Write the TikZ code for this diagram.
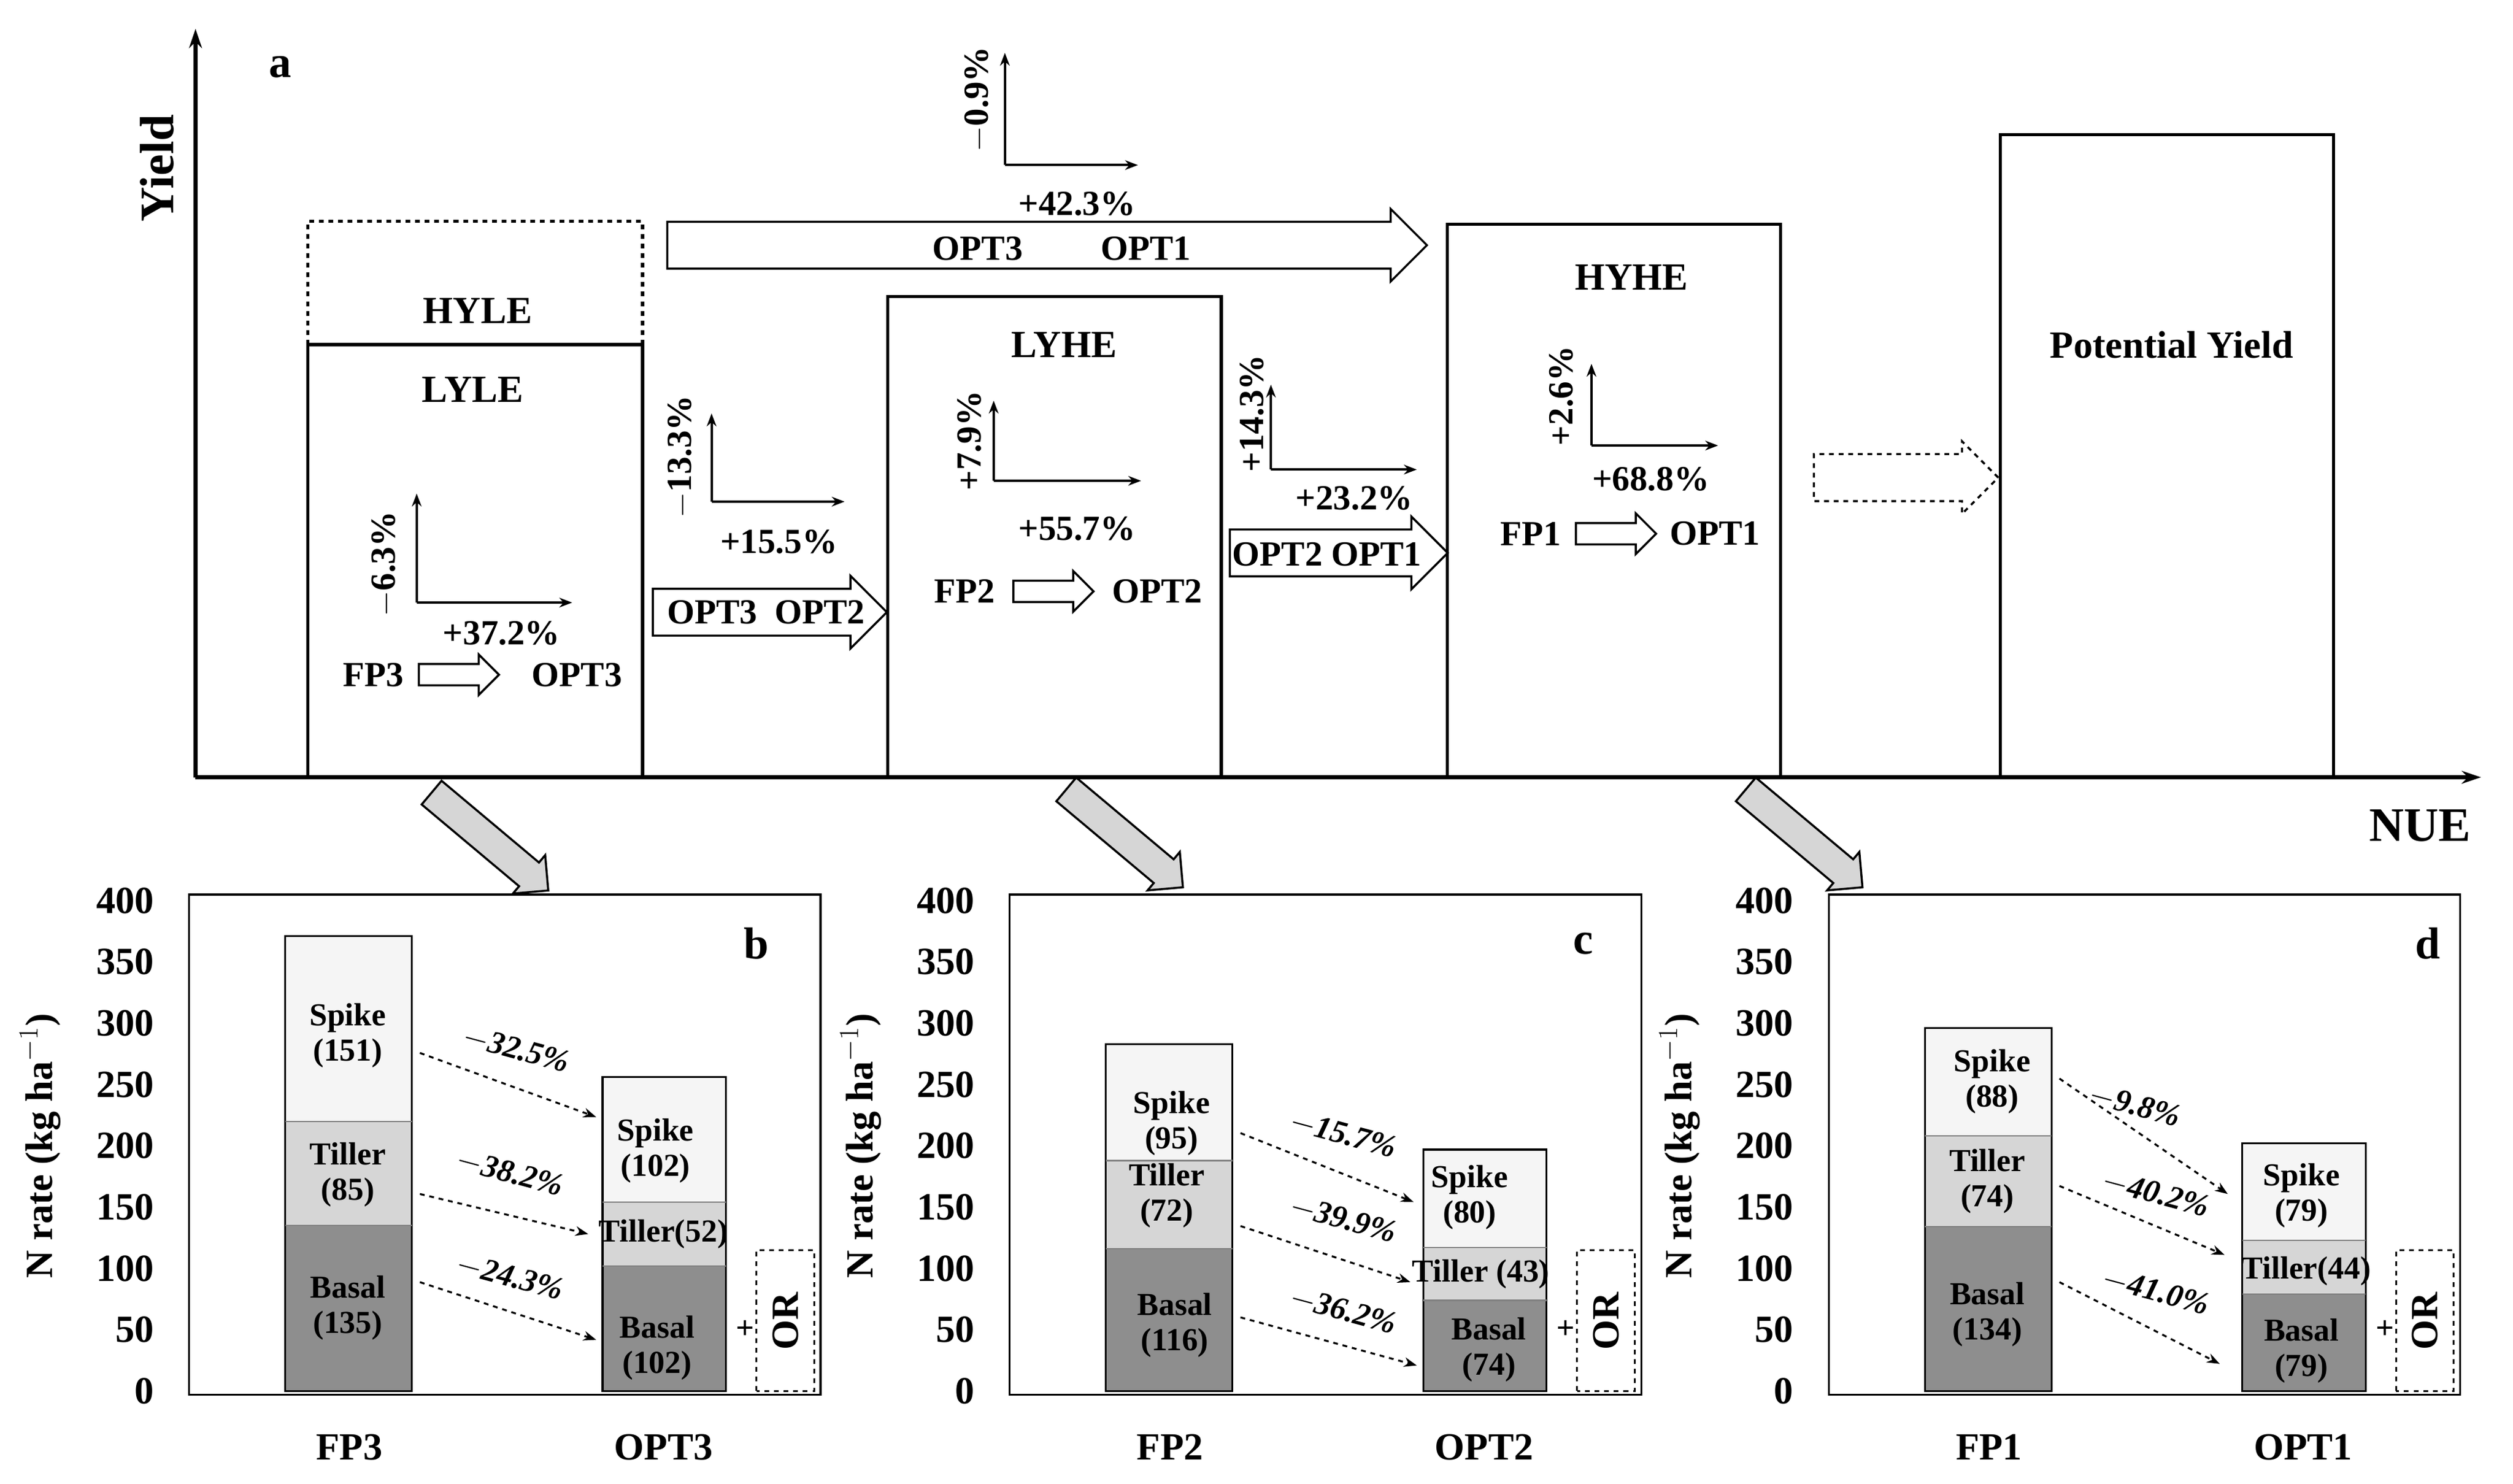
\documentclass[tikz,border=0pt]{standalone}
\usepackage{fontspec}
\setmainfont{Liberation Serif}
\usetikzlibrary{arrows.meta,shapes.arrows}
\definecolor{spk}{HTML}{F5F5F5}
\definecolor{til}{HTML}{D6D6D6}
\definecolor{bas}{HTML}{8E8E8E}
\begin{document}
\begin{tikzpicture}[x=1pt,y=-1pt,line width=2pt,
 lab/.style={font=\fontsize{24}{26}\selectfont\bfseries,inner sep=1pt},
 pl/.style={font=\fontsize{22}{24}\selectfont\bfseries,inner sep=1pt},
 bl/.style={font=\fontsize{20}{22}\selectfont\bfseries,inner sep=0pt,align=center},
 pc/.style={font=\fontsize{20}{22}\selectfont\bfseries\itshape,inner sep=1pt},
 ax/.style={line width=2.5pt,-{Stealth[length=12pt,width=8pt]}},
 arr/.style={draw,line width=1.3pt,single arrow,inner xsep=0pt,text width=0pt,anchor=center},
 hol/.style={arr,inner ysep=6pt,single arrow head extend=6pt,minimum height=#1},
 big/.style={arr,inner ysep=14pt,single arrow head extend=8pt,minimum height=#1},
 gr/.style={arr,fill=til,inner ysep=9pt,single arrow head extend=6pt,minimum height=95pt,rotate=-40},
 da/.style={line width=1.2pt,dashed,-{Stealth[length=8pt,width=6pt]}},
 sa/.style={line width=1.5pt,-{Stealth[length=8pt,width=6pt]}}]
\useasboundingbox (0,0) rectangle (1568,925.6);
% top panel axes
\coordinate (o) at (122,485);
\coordinate (ytop) at (122,18);
\coordinate (xend) at (1548,485);
\draw[ax] (o) -- (ytop);
\draw[ax] (o) -- (xend);
\node[lab,rotate=90,font=\fontsize{30}{32}\selectfont\bfseries] (yl) at (98,105) {Yield};
\node[lab,font=\fontsize{28}{30}\selectfont\bfseries] (aa) at (175,42) {a};
\node[lab,font=\fontsize{30}{32}\selectfont\bfseries] (nue) at (1510,515) {NUE};
% boxes
\draw (192,485) -- (192,215) -- (401,215) -- (401,485);
\draw[dashed] (192,215) -- (192,138) -- (401,138) -- (401,215);
\draw (554,485) rectangle (762,185);
\draw (903,485) rectangle (1111,140);
\draw (1248,485) rectangle (1456,84);
\node[lab] (hyle) at (298,194) {HYLE};
\node[lab] (lyle) at (295,243) {LYLE};
\node[lab] (lyhe) at (664,215) {LYHE};
\node[lab] (hyhe) at (1018,173) {HYHE};
\node[lab] (py) at (1355,215) {Potential Yield};
% small axes
\foreach \cx/\cy/\ux/\rx/\nm in {260/376/308/357/A,444/313/258/527/B,620/300/250/712/C,793/293/240/884/D,993/278/227/1072/E,627/103/33/710/F}{
 \coordinate (c\nm) at (\cx,\cy);
 \coordinate (u\nm) at (\cx,\ux);
 \coordinate (r\nm) at (\rx,\cy);
 \draw[sa] (c\nm) -- (u\nm);
 \draw[sa] (c\nm) -- (r\nm);
}
\node[pl,rotate=90] (pa) at (240,352) {$-$6.3\%};
\node[pl] (pa2) at (313,395) {+37.2\%};
\node[pl,rotate=90] (pb) at (425,285) {$-$13.3\%};
\node[pl] (pb2) at (486,338) {+15.5\%};
\node[pl,rotate=90] (pc1) at (605,275) {+7.9\%};
\node[pl] (pc2) at (672,330) {+55.7\%};
\node[pl,rotate=90] (pd) at (781,258) {+14.3\%};
\node[pl] (pd2) at (845,311) {+23.2\%};
\node[pl,rotate=90] (pe) at (974,247) {+2.6\%};
\node[pl] (pe2) at (1030,299) {+68.8\%};
\node[pl,rotate=90] (pf) at (610,62) {$-$0.9\%};
\node[pl] (pf2) at (672,127) {+42.3\%};
% FP->OPT
\node[pl] (fp3) at (233,421) {FP3};
\node[hol=50pt] (h1) at (283,421) {};
\node[pl] (o3) at (360,421) {OPT3};
\node[pl] (fp2) at (602,369) {FP2};
\node[hol=50pt] (h2) at (654,369) {};
\node[pl] (o2) at (722,369) {OPT2};
\node[pl] (fp1) at (955,333) {FP1};
\node[hol=50pt] (h3) at (1005,333) {};
\node[pl] (o1) at (1070,333) {OPT1};
\node[big=146pt] (ba1) at (473,382) {};
\node[pl] at (478,382) {OPT3\ \ OPT2};
\node[big=136pt] (ba2) at (828,345) {};
\node[pl] at (828,346) {OPT2 OPT1};
\node[big=474pt] (ba3) at (646,153) {};
\node[pl] (t31) at (610,155) {OPT3};
\node[pl] (t32) at (715,155) {OPT1};
\node[big=115pt,dashed] (dsh) at (1182,298) {};
% gray arrows
\node[gr] (g1) at (302,522) {};
\node[gr] (g2) at (698,520) {};
\node[gr] (g3) at (1122,520) {};
% lower panels
\newcommand\mypanel[9]{%
\begin{scope}[shift={(#1,868)},y={(0pt,0.765pt)}]
 \draw[line width=1.2pt] (0,-3) rectangle (394,405);
 \foreach \v in {0,50,...,400}{\node[lab,anchor=east] at (-20,\v) {\v};}
 \fill[bas] (60,0) rectangle (139,#2);
 \fill[til] (60,#2) rectangle (139,#3);
 \fill[spk] (60,#3) rectangle (139,#4);
 \draw[line width=1.2pt] (60,0) rectangle (139,#4);
 \draw[line width=0.8pt,gray] (60,#2) -- (139,#2) (60,#3) -- (139,#3);
 \fill[bas] (258,0) rectangle (335,#5);
 \fill[til] (258,#5) rectangle (335,#6);
 \fill[spk] (258,#6) rectangle (335,#7);
 \draw[line width=1.2pt] (258,0) rectangle (335,#7);
 \draw[line width=0.8pt,gray] (258,#5) -- (335,#5) (258,#6) -- (335,#6);
 \draw[line width=1.2pt,dashed] (354,0) rectangle (390,115);
 \node[lab,rotate=90] at (372,57) {OR};
 \node[font=\fontsize{20}{22}\selectfont\bfseries] at (347,50) {+};
 \node[lab,font=\fontsize{28}{30}\selectfont\bfseries] at (#8,365) {#9};
\end{scope}}
\mypanel{118}{135}{220}{371}{102}{154}{256}{354}{b}
\mypanel{630}{116}{188}{283}{74}{117}{197}{358}{c}
\mypanel{1141}{134}{208}{296}{79}{123}{202}{374}{d}
\node[lab,rotate=90] (ny1) at (25,715) {N rate (kg ha$^{-1}$)};
\node[lab,rotate=90] (ny2) at (537,715) {N rate (kg ha$^{-1}$)};
\node[lab,rotate=90] (ny3) at (1048,715) {N rate (kg ha$^{-1}$)};
% bottom x labels
\node[lab] at (218,903) {FP3}; \node[lab] at (414,903) {OPT3};
\node[lab] at (730,903) {FP2}; \node[lab] at (926,903) {OPT2};
\node[lab] at (1241,903) {FP1}; \node[lab] at (1437,903) {OPT1};
% bar labels b
\node[bl] at (217,646) {Spike\\(151)};
\node[bl] at (217,733) {Tiller\\(85)};
\node[bl] at (217,816) {Basal\\(135)};
\node[bl] at (409,718) {Spike\\(102)};
\node[bl] at (414,770) {Tiller(52)};
\node[bl] at (410,841) {Basal\\(102)};
% c
\node[bl] at (731,701) {Spike\\(95)};
\node[bl] at (728,746) {Tiller\\(72)};
\node[bl] at (733,827) {Basal\\(116)};
\node[bl] at (917,747) {Spike\\(80)};
\node[bl] at (924,795) {Tiller (43)};
\node[bl] at (929,842) {Basal\\(74)};
% d
\node[bl] at (1243,675) {Spike\\(88)};
\node[bl] at (1240,737) {Tiller\\(74)};
\node[bl] at (1240,820) {Basal\\(134)};
\node[bl] at (1436,746) {Spike\\(79)};
\node[bl] at (1439,793) {Tiller(44)};
\node[bl] at (1436,843) {Basal\\(79)};
% dashed arrows
\foreach \ax/\ay/\bx/\by/\t/\lx/\ly/\n in {
262/657/372/697/{$-$32.5\%}/322/655/1, 262/745/367/770/{$-$38.2\%}/318/732/2, 262/800/372/836/{$-$24.3\%}/318/797/3,
774/707/882/750/{$-$15.7\%}/838/708/4, 774/765/880/800/{$-$39.9\%}/838/761/5, 774/822/884/852/{$-$36.2\%}/838/818/6,
1285/673/1390/745/{$-$9.8\%}/1332/690/7, 1285/740/1388/783/{$-$40.2\%}/1345/745/8, 1285/800/1385/851/{$-$41.0\%}/1345/806/9}{
 \coordinate (s\n) at (\ax,\ay); \coordinate (e\n) at (\bx,\by);
 \draw[da] (s\n) -- (e\n);
 \node[pc,rotate=-15] at (\lx,\ly) {\t};
}
\end{tikzpicture}
\end{document}
